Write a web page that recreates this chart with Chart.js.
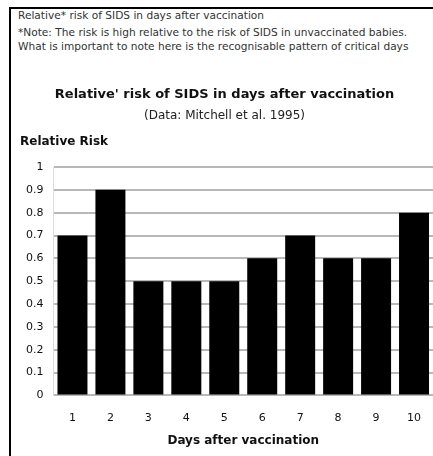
<!DOCTYPE html>
<html>
<head>
<meta charset="utf-8">
<script src="https://cdn.jsdelivr.net/npm/chart.js@4"></script>
<style>
  html, body { margin: 0; padding: 0; background: #fff; }
  body { width: 433px; height: 456px; position: relative; overflow: hidden; font-family: "DejaVu Sans", sans-serif; }
  #frame { position: absolute; left: 9px; top: 7px; width: 430px; height: 452px; border-left: 2px solid #000; border-top: 2px solid #000; }
  .note { position: absolute; left: 18px; font-size: 10.6px; color: #333; white-space: nowrap; }
  #chartBox { position: absolute; left: 0; top: 0; width: 433px; height: 456px; }
</style>
</head>
<body>
<div id="frame"></div>
<div class="note" style="top:9px">Relative* risk of SIDS in days after vaccination</div>
<div class="note" style="top:26px">*Note: The risk is high relative to the risk of SIDS in unvaccinated babies.</div>
<div class="note" style="top:40px">What is important to note here is the recognisable pattern of critical days</div>
<div id="chartBox"><canvas id="chart" width="433" height="456"></canvas></div>
<script>
const days = ["1", "2", "3", "4", "5", "6", "7", "8", "9", "10"];
const relativeRisk = [0.7, 0.9, 0.5, 0.5, 0.5, 0.6, 0.7, 0.6, 0.6, 0.8];
const yTicks = [0, 0.1, 0.2, 0.3, 0.4, 0.5, 0.6, 0.7, 0.8, 0.9, 1];

const fontName = "'DejaVu Sans', sans-serif";

// horizontal "Relative Risk" label above the y axis
const yLabelPlugin = {
  id: "yLabel",
  afterDraw: (chart) => {
    const ctx = chart.ctx;
    const area = chart.chartArea;
    ctx.save();
    ctx.font = "bold 12px " + fontName;
    ctx.fillStyle = "#111";
    ctx.textAlign = "left";
    ctx.textBaseline = "middle";
    ctx.fillText("Relative Risk", 20, area.top - 25);
    ctx.restore();
  },
};

const canvas = document.getElementById("chart");
new Chart(canvas, {
  type: "bar",
  data: {
    labels: days,
    datasets: [
      {
        label: "Relative risk",
        data: relativeRisk,
        backgroundColor: "#000",
        borderWidth: 0,
        barPercentage: 0.79,
        categoryPercentage: 1,
      },
    ],
  },
  options: {
    responsive: false,
    animation: false,
    layout: { padding: { top: 87, left: 16, right: 0, bottom: 8 } },
    plugins: {
      legend: { display: false },
      tooltip: { enabled: false },
      title: {
        display: true,
        text: "Relative' risk of SIDS in days after vaccination",
        color: "#111",
        font: { family: fontName, size: 13, weight: "bold" },
        padding: { top: 0, bottom: 6 },
      },
      subtitle: {
        display: true,
        text: "(Data: Mitchell et al. 1995)",
        color: "#222",
        font: { family: fontName, size: 12 },
        padding: { top: 0, bottom: 44 },
      },
    },
    scales: {
      x: {
        grid: { display: false },
        border: { display: false },
        ticks: { color: "#111", font: { family: fontName, size: 11 }, padding: 8 },
        title: {
          display: true,
          text: "Days after vaccination",
          color: "#111",
          font: { family: fontName, size: 12, weight: "bold" },
          padding: { top: 1, bottom: 0 },
        },
      },
      y: {
        min: 0,
        max: 1,
        afterBuildTicks: (axis) => {
          axis.ticks = yTicks.map((v) => ({ value: v }));
        },
        grid: { color: "#b8b8b8", lineWidth: 2, drawTicks: false },
        border: { display: true, color: "#ddd", width: 1 },
        ticks: {
          color: "#111",
          font: { family: fontName, size: 11 },
          padding: 10,
          callback: (v) => String(Math.round(v * 10) / 10),
        },
      },
    },
  },
  plugins: [yLabelPlugin],
});
</script>
</body>
</html>
